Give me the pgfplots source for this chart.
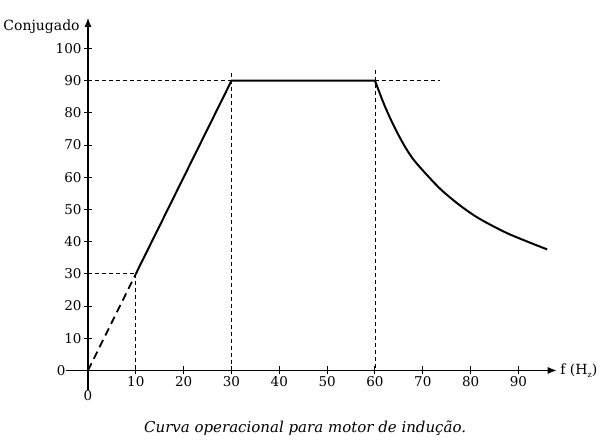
\documentclass[border=0pt]{standalone}
\usepackage{pgfplots}
\pgfplotsset{compat=1.18}
\usepackage{fontspec}
\setmainfont{DejaVu Serif}
\usetikzlibrary{arrows.meta}
\begin{document}
\begin{tikzpicture}
\begin{axis}[
  x=4.783pt, y=3.22pt,
  xmin=-4.5, xmax=98, ymin=-6, ymax=109.5,
  axis lines=middle,
  axis line style={line width=1.3pt, -{Latex[length=9pt,width=7pt]}},
  xtick={10,20,...,90}, ytick={10,20,...,100},
  extra x ticks={0}, extra y ticks={0},
  extra x tick style={xticklabel style={yshift=-18pt}, major tick length=0pt},
  extra y tick style={yticklabel style={xshift=-20pt}, major tick length=0pt},
  hide obscured x ticks=false, hide obscured y ticks=false,
  tick align=center, major tick length=8pt,
  tick style={line width=1pt, black},
  /pgf/number format/assume math mode=true,
  tick label style={font=\fontsize{13.5}{15}\selectfont},
  xticklabel style={yshift=2pt},
  yticklabel style={xshift=1pt},
  clip=false,
]
% dashed guide lines
\addplot[black, line width=0.9pt, dash pattern=on 4pt off 3pt] coordinates {(0,90) (73.6,90)};
\addplot[black, line width=0.9pt, dash pattern=on 4pt off 3pt] coordinates {(30,92.5) (30,0)};
\addplot[black, line width=0.9pt, dash pattern=on 4pt off 3pt] coordinates {(60,93.3) (60,0)};
\addplot[black, line width=0.9pt, dash pattern=on 4pt off 3pt] coordinates {(10,30) (10,0)};
\addplot[black, line width=0.9pt, dash pattern=on 4pt off 3pt] coordinates {(0,30) (10,30)};
% thick dashed start
\addplot[black, line width=1.8pt, dash pattern=on 8pt off 5pt] coordinates {(0,0) (10,30)};
% operating curve
\addplot[black, line width=2pt] coordinates {(10,30) (30,90) (60,90)};
\addplot[black, line width=2pt, smooth, tension=0.5] coordinates {
(60,90) (62,82.3) (64,75.8) (66,70.2) (68,65.6) (71,60.5) (74,55.9) (78,51.0) (82,47.0) (88,42.4) (96,37.6)};
\node[anchor=base east, font=\fontsize{14}{16}\selectfont] at (axis cs:-1,105.7) {Conjugado};
\node[anchor=west, font=\fontsize{14}{16}\selectfont] at (axis cs:98,0) {f (H\raisebox{-0.45ex}{\footnotesize z})};
\node[font=\itshape\fontsize{15}{17}\selectfont] at (axis cs:45.4,-17.9) {Curva operacional para motor de indução.};
\path (axis cs:-18.4,-23.76) rectangle (axis cs:109.35,115.06);
\end{axis}
\end{tikzpicture}
\end{document}
